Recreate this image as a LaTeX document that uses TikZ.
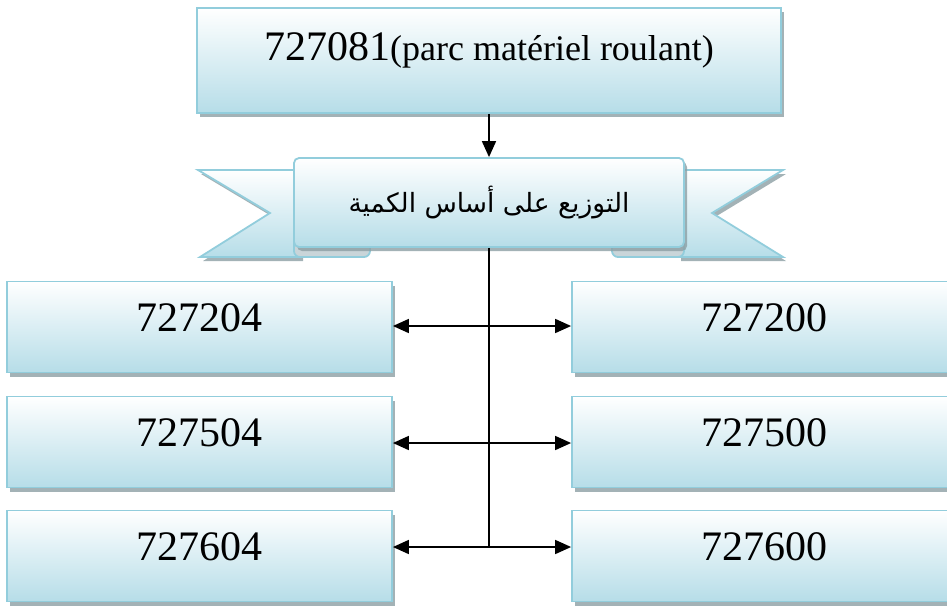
\documentclass[tikz,border=0pt]{standalone}
\usepackage{fontspec}
\setmainfont{Liberation Serif}
\newfontfamily\arabicfont[Script=Arabic]{DejaVu Sans}
\TeXXeTstate=1
\usetikzlibrary{arrows.meta,shadows}
\definecolor{edgeblue}{HTML}{92CDDC}
\definecolor{fillblue}{HTML}{B6DDE8}
\definecolor{shadowgray}{HTML}{8C9FA4}
\definecolor{foldgray}{HTML}{C9D5D9}

\begin{document}
\begin{tikzpicture}[x=1pt,y=1pt,
  boxshadow/.style={drop shadow={shadow xshift=3pt,shadow yshift=-4pt,fill=shadowgray,opacity=0.8}},
  panel/.style={draw=edgeblue,line width=1.8pt,top color=white,bottom color=fillblue,boxshadow},
  codebox/.style={panel,minimum width=385pt,minimum height=91pt,inner sep=0pt,
    font=\fontsize{42}{48}\selectfont,text depth=18pt},
  link/.style={line width=1.7pt,-{Triangle[length=16pt,width=14pt]}},
  trunk/.style={line width=1.7pt},
]
\clip (0,0) rectangle (947,-606);

% heading box
\node[panel,minimum width=584pt,minimum height=105pt,inner sep=0pt,text depth=27pt] (top) at (489,-60.5)
  {\fontsize{42}{48}\selectfont 727081{\fontsize{36}{42}\selectfont(parc matériel roulant)}};

% ribbon: wings behind, folds, then the front band
\path[panel] (198,-170) -- (300,-170) -- (300,-257) -- (200,-257) -- (270,-213) -- cycle;
\path[panel] (783,-170) -- (678,-170) -- (678,-257) -- (783,-257) -- (712,-213) -- cycle;
\path[draw=edgeblue,line width=1.8pt,fill=foldgray,rounded corners=6pt]
  (294,-238) -- (294,-257) -- (370,-257) -- (370,-238) -- cycle;
\path[draw=edgeblue,line width=1.8pt,fill=foldgray,rounded corners=6pt]
  (612,-238) -- (612,-257) -- (684,-257) -- (684,-238) -- cycle;
\node[panel,minimum width=390pt,minimum height=89pt,rounded corners=5pt,inner sep=0pt] (ban) at (489,-202.5)
  {\arabicfont\fontsize{26.5}{32}\selectfont\beginR التوزيع على أساس الكمية\endR};

% code boxes
\node[codebox] (L1) at (199.5,-327) {727204};
\node[codebox] (L2) at (199.5,-442) {727504};
\node[codebox] (L3) at (199.5,-556) {727604};
\node[codebox,minimum width=384pt] (R1) at (764,-327) {727200};
\node[codebox,minimum width=384pt] (R2) at (764,-442) {727500};
\node[codebox,minimum width=384pt] (R3) at (764,-556) {727600};

% connectors
\coordinate (j1) at (489,-326);
\coordinate (j2) at (489,-443);
\coordinate (j3) at (489,-547);
\draw[link] (top.south) -- (ban.north);
\draw[trunk] (ban.south) -- (j3);
\foreach \r in {1,2,3}{
  \draw[link] (j\r) -- (L\r.east |- j\r);
  \draw[link] (j\r) -- (R\r.west |- j\r);
}
\end{tikzpicture}
\end{document}
